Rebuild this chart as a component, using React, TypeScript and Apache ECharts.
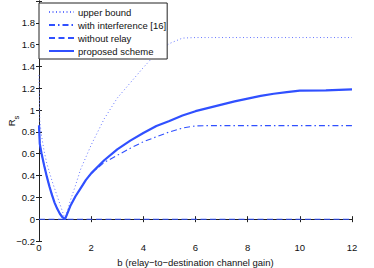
import React, { useEffect, useRef } from "react";
import * as echarts from "echarts";

const B = [0, 0.03, 0.1, 0.2, 0.3, 0.4, 0.5, 0.6, 0.7, 0.8, 0.9, 1.0, 1.2, 1.4, 1.6, 1.8, 2.0, 2.5, 3.0, 3.5, 4.0, 4.5, 5.0, 5.5, 6.0, 6.5, 7.0, 7.5, 8.0, 8.5, 9.0, 9.5, 10.0, 11.0, 12.0];

const upperBound = [1.32, 0.9, 0.76, 0.62, 0.51, 0.43, 0.35, 0.28, 0.21, 0.14, 0.07, 0.0, 0.17, 0.31, 0.46, 0.57, 0.68, 0.92, 1.11, 1.25, 1.39, 1.52, 1.61, 1.66, 1.665, 1.665, 1.665, 1.665, 1.665, 1.665, 1.665, 1.665, 1.665, 1.665, 1.665];

const withInterference = [0.86, 0.69, 0.6, 0.49, 0.39, 0.3, 0.22, 0.15, 0.095, 0.05, 0.018, 0.0, 0.12, 0.21, 0.285, 0.36, 0.42, 0.52, 0.585, 0.65, 0.71, 0.755, 0.8, 0.835, 0.855, 0.858, 0.858, 0.858, 0.858, 0.858, 0.858, 0.858, 0.858, 0.858, 0.858];

const withoutRelay = [0, 0, 0, 0, 0, 0, 0, 0, 0, 0, 0, 0, 0, 0, 0, 0, 0, 0, 0, 0, 0, 0, 0, 0, 0, 0, 0, 0, 0, 0, 0, 0, 0, 0, 0];

const proposed = [0.86, 0.69, 0.6, 0.49, 0.39, 0.3, 0.22, 0.15, 0.095, 0.05, 0.018, 0.0, 0.12, 0.21, 0.285, 0.36, 0.42, 0.54, 0.64, 0.72, 0.79, 0.855, 0.9, 0.95, 0.99, 1.02, 1.05, 1.08, 1.105, 1.13, 1.15, 1.165, 1.178, 1.18, 1.19];

const seriesNames = ["upper bound", "with interference [16]", "without relay", "proposed scheme"];

const xTicksMin = 0;
const xTicksMax = 12;
const xTickStep = 2;
const yTicksMin = -0.2;
const yTicksMax = 2;
const yTickStep = 0.2;

const BLUE = "#3050ff";
const LIGHT_BLUE = "#6677ff";
const FONT = "Liberation Sans";
const FS = 9.5;

const pairs = (ys: number[]) => B.map((b, i) => [b, ys[i]]);

export default function App() {
  const ref = useRef<HTMLDivElement>(null);
  useEffect(() => {
    if (!ref.current) return;
    const chart = echarts.init(ref.current, null, { renderer: "svg" });
    const axisLine = { show: true, lineStyle: { color: "#222", width: 1 } };
    const tick = { show: true, inside: true, length: 3, lineStyle: { color: "#222" } };
    const yFmt = (v: number) => {
      const r = Math.round(v * 10) / 10;
      if (Math.abs(r - 2) < 1e-6) return "";
      if (Math.abs(r) < 1e-6) return "0";
      if (Number.isInteger(r)) return String(r);
      const s = Math.abs(r).toFixed(1);
      return r < 0 ? "\u2212" + s : s;
    };
    chart.setOption({
      animation: false,
      backgroundColor: "#fff",
      grid: { left: 39, right: 22, top: 1, bottom: 27, containLabel: false, outerBoundsMode: "none" },
      legend: {
        left: 39,
        top: 3,
        orient: "vertical",
        padding: [4, 1, 3, 9],
        itemWidth: 25,
        itemHeight: 10,
        itemGap: 3,
        backgroundColor: "#fff",
        borderColor: "#222",
        borderWidth: 1,
        borderRadius: 0,
        itemStyle: { opacity: 0, color: "rgba(0,0,0,0)", borderWidth: 0 },
        textStyle: { fontFamily: FONT, fontSize: FS, color: "#111", padding: [0, 0, 0, -1] },
        data: seriesNames,
      },
      xAxis: [
        {
          type: "value",
          min: xTicksMin,
          max: xTicksMax,
          interval: xTickStep,
          position: "bottom",
          axisLine,
          axisTick: tick,
          splitLine: { show: false },
          axisLabel: { fontFamily: FONT, fontSize: FS, color: "#111", margin: 1 },
          name: "b (relay\u2212to\u2212destination channel gain)",
          nameLocation: "middle",
          nameGap: 16,
          nameMoveOverlap: false,
          nameTextStyle: { fontFamily: FONT, fontSize: FS, color: "#111" },
        },
        {
          type: "value",
          min: xTicksMin,
          max: xTicksMax,
          interval: xTickStep,
          position: "top",
          axisLine,
          axisTick: tick,
          splitLine: { show: false },
          axisLabel: { show: false },
        },
      ],
      yAxis: [
        {
          type: "value",
          min: yTicksMin,
          max: yTicksMax,
          interval: yTickStep,
          position: "left",
          axisLine,
          axisTick: tick,
          splitLine: { show: false },
          axisLabel: { fontFamily: FONT, fontSize: FS, color: "#111", margin: 4, formatter: yFmt },
          name: "{a|R}{b|s}",
          nameLocation: "middle",
          nameRotate: 90,
          nameGap: 19,
          nameMoveOverlap: false,
          nameTextStyle: {
            fontFamily: FONT,
            color: "#111",
            rich: {
              a: { fontFamily: FONT, fontSize: FS, color: "#111", lineHeight: 14, verticalAlign: "top" },
              b: { fontFamily: FONT, fontSize: 7.5, color: "#111", lineHeight: 14, verticalAlign: "bottom" },
            },
          },
        },
        {
          type: "value",
          min: yTicksMin,
          max: yTicksMax,
          interval: yTickStep,
          position: "right",
          axisLine,
          axisTick: tick,
          splitLine: { show: false },
          axisLabel: { show: false },
        },
      ],
      series: [
        {
          name: seriesNames[0],
          type: "line",
          data: pairs(upperBound),
          symbol: "none",
          lineStyle: { color: LIGHT_BLUE, width: 1, type: [1, 2.5] },
          itemStyle: { color: LIGHT_BLUE },
          z: 2,
        },
        {
          name: seriesNames[1],
          type: "line",
          data: pairs(withInterference),
          symbol: "none",
          lineStyle: { color: BLUE, width: 1.1, type: [6, 3, 1.5, 3] },
          itemStyle: { color: BLUE },
          z: 3,
        },
        {
          name: seriesNames[2],
          type: "line",
          data: pairs(withoutRelay),
          symbol: "none",
          lineStyle: { color: BLUE, width: 1.1, type: [6, 3.5] },
          itemStyle: { color: BLUE },
          z: 3,
        },
        {
          name: seriesNames[3],
          type: "line",
          data: pairs(proposed),
          symbol: "none",
          lineStyle: { color: BLUE, width: 2.2, type: "solid" },
          itemStyle: { color: BLUE },
          z: 4,
        },
      ],
    });
    return () => chart.dispose();
  }, []);
  return (
    <div
      ref={ref}
      style={{ position: "absolute", left: 0, top: 0, width: 374, height: 268 }}
    />
  );
}
